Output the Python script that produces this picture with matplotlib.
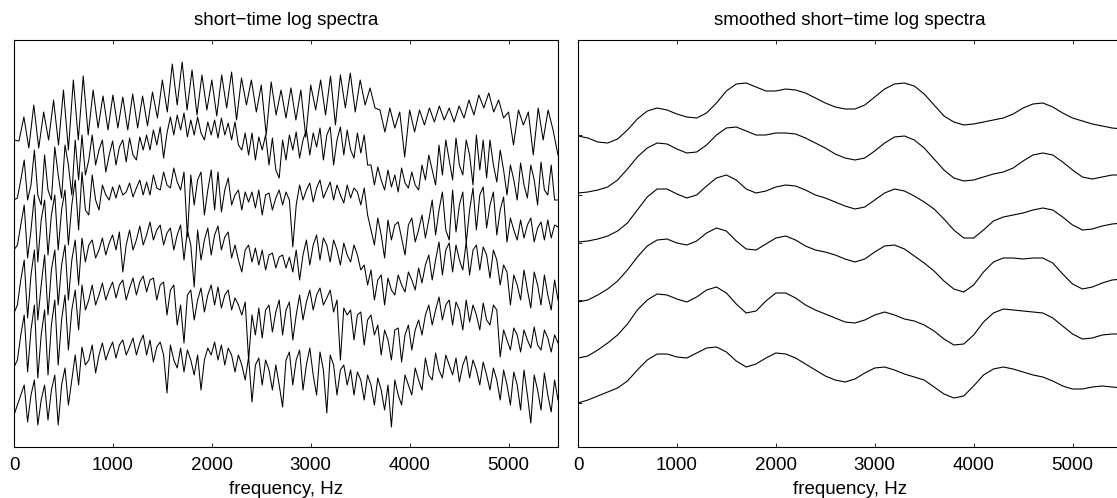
import numpy as np
import matplotlib
matplotlib.use("Agg")
import matplotlib.pyplot as plt

plt.rcParams['font.family'] = ['Liberation Sans', 'DejaVu Sans']

# raw log spectra, level above each trace's own baseline, top trace first
freq_raw_1 = np.arange(0, 5501, 50)
raw_1 = [0, -1, 23, -8, 35, -8, 28, 0, 40, -5,
         50, -10, 60, 0, 64, 5, 50, 12, 44, 10,
         45, 12, 43, 10, 46, 12, 44, 14, 48, 22,
         60, 28, 76, 35, 78, 30, 70, 25, 65, 30,
         60, 24, 65, 32, 68, 20, 62, 35, 60, 28,
         55, 5, 58, 25, 50, 22, 52, 20, 50, 3,
         55, 30, 60, 25, 64, 15, 65, 32, 67, 28,
         60, 35, 52, 32, 30, 8, 32, 12, 28, -17,
         30, 8, 30, 15, 32, 18, 34, 20, 32, 18,
         34, 22, 40, 25, 45, 32, 47, 28, 40, 22,
         28, -5, 30, 15, 28, -15, 32, 0, 30, 10,
         -15]

freq_raw = np.linspace(0, 5500, 161)
raw_2 = [-5, -3, 15, 35, -5, 10, 45, 0, -10, 40,
         5, -5, 48, 20, -3, 50, 30, 0, 55, 15,
         60, 20, 35, 60, 30, 45, 55, 23, 40, 54,
         30, 48, 55, 33, 57, 40, 35, 58, 45, 60,
         45, 65, 50, 68, 37, 62, 78, 60, 80, 65,
         82, 58, 75, 60, 78, 62, 55, 73, 60, 75,
         57, 77, 60, 72, 55, 73, 50, 45, 62, 40,
         62, 35, 58, 45, 60, 30, 57, 25, 17, 55,
         35, 60, 45, 63, 37, 55, 65, 40, 62, 48,
         67, 35, 60, 68, 30, 55, 68, 40, 65, 45,
         37, 62, 42, 60, 30, 30, 10, 28, 15, 5,
         25, 8, 20, 3, 27, 12, 7, 23, 10, 5,
         30, 15, 40, 25, 10, 50, 20, 55, 35, 15,
         57, 30, 20, 55, 40, 10, 60, 25, 55, 17,
         55, 30, 13, 45, 25, 0, 30, 15, -5, 32,
         10, -3, 30, 15, -10, 33, 5, 0, 30, -5,
         -5]
raw_3 = [0, 5, 25, 45, -8, 20, 55, -12, 30, 50,
         -5, 35, 55, 0, 40, 60, 5, 45, 70, 20,
         78, 40, 35, 75, 50, 40, 65, 55, 50, 63,
         52, 65, 55, 58, 67, 53, 62, 70, 55, 68,
         55, 75, 62, 60, 78, 65, 62, 82, 68, 60,
         78, 13, 75, 45, 70, 78, 35, 60, 80, 40,
         78, 38, 60, 72, 45, 55, 60, 40, 58, 48,
         58, 42, 60, 35, 55, 57, 40, 52, 60, 45,
         58, 50, 3, 45, 65, 50, 60, 67, 48, 62,
         70, 52, 60, 68, 50, 65, 55, 47, 65, 52,
         62, 58, 45, 62, 35, 20, 5, 32, 15, -8,
         30, 10, 25, 28, 12, -5, 25, 32, 8, 20,
         35, 12, 30, 50, 15, 40, 58, 20, 10, 60,
         18, 45, 58, 7, 40, 62, 20, 55, 63, 22,
         45, 58, 15, 40, 53, 8, 32, 20, 10, 30,
         12, 25, 32, 8, 22, 28, 10, 30, 12, 25,
         23]
raw_4 = [-8, 0, 25, 45, -13, 30, 55, -15, 20, 50,
         -10, 35, 55, 0, 40, 60, 5, 45, 65, 20,
         67, 43, 60, 65, 47, 55, 67, 50, 62, 70,
         55, 73, 33, 60, 75, 55, 65, 79, 60, 70,
         83, 65, 75, 80, 60, 72, 77, 55, 70, 80,
         45, 75, 60, 18, 75, 45, 65, 77, 50, 70,
         79, 55, 68, 73, 47, 60, 45, 33, 55, 60,
         43, 57, 40, 55, 35, 50, 52, 37, 48, 50,
         37, 48, 33, 55, 25, 50, 65, 40, 60, 70,
         45, 67, 60, 43, 65, 55, 40, 62, 50, 43,
         60, 50, 35, 40, 20, 35, 5, 25, 30, 0,
         27, 15, 10, 30, 20, 13, 33, 25, 15, 37,
         22, 40, 50, 25, 45, 63, 30, 55, 62, 33,
         60, 45, 35, 63, 30, 55, 60, 35, 58, 50,
         27, 55, 45, 20, 40, 33, 0, 30, 20, 5,
         35, 15, -3, 33, 20, 0, 30, 10, -5, 25,
         5]
raw_5 = [-7, 0, 25, 45, -12, 30, 55, -18, 25, 50,
         -15, 35, 60, -5, 40, 65, 10, 50, 70, 30,
         75, 50, 60, 75, 55, 65, 77, 60, 70, 78,
         62, 75, 80, 60, 72, 82, 65, 78, 84, 68,
         80, 82, 60, 75, 78, 45, 70, 75, 35, 55,
         17, 65, 70, 40, 60, 72, 48, 65, 75, 55,
         73, 52, 65, 70, 50, 62, 55, 45, 58, 0,
         45, 25, 52, 22, 50, 55, 28, 48, 60, 25,
         50, 58, 20, 45, 65, 40, 58, 70, 50, 65,
         72, 55, 62, 70, 48, 60, 0, 52, 45, 50,
         20, 45, 48, 15, 40, 45, 25, 35, 5, 30,
         20, 0, 30, 32, -2, 25, 35, 10, 30, 40,
         25, 45, 55, 35, 50, 63, 40, 55, 60, 35,
         58, 50, 30, 60, 38, 55, 45, 30, 57, 40,
         35, 55, 50, 3, 30, 20, 10, 32, 25, 8,
         30, 20, 12, 33, 15, 10, 30, 22, 8, 25,
         17]
raw_6 = [0, 10, 20, 30, -7, 20, 35, -10, 15, 30,
         -5, 25, 40, -10, 30, 47, 10, 35, 60, 30,
         68, 50, 55, 70, 42, 60, 72, 55, 65, 73,
         57, 70, 75, 60, 68, 77, 60, 72, 80, 60,
         75, 53, 68, 73, 60, 22, 70, 55, 47, 67,
         43, 65, 55, 40, 60, 25, 55, 67, 60, 73,
         55, 70, 50, 67, 60, 43, 60, 50, 35, 58,
         13, 50, 57, 30, 55, 45, 25, 50, 30, 8,
         55, 63, 30, 55, 65, 25, 50, 67, 40, 20,
         63, 45, 2, 60, 50, 20, 45, 50, 30, 45,
         20, 43, 35, 15, 40, 30, 10, 37, 25, 5,
         30, -12, 35, 20, 10, 40, 30, 20, 47, 35,
         25, 57, 40, 35, 62, 45, 37, 60, 50, 40,
         57, 33, 50, 59, 37, 55, 45, 30, 53, 40,
         25, 47, 35, 15, 45, 30, 10, 43, 30, 5,
         45, 20, -8, 40, 25, 5, 42, 20, 3, 35,
         15]

# smoothed log spectra, read every 100 Hz, top trace first
freq_smooth = np.arange(0, 5501, 100)
smooth_1 = [4, 2, -2, -3, 1, 10, 21, 29, 32, 30,
            26, 23, 22, 27, 37, 49, 56, 57, 53, 49,
            49, 51, 50, 47, 42, 37, 33, 31, 31, 35,
            43, 51, 56, 57, 54, 46, 35, 24, 18, 15,
            16, 18, 20, 22, 26, 32, 36, 37, 33, 27,
            22, 19, 16, 14, 12, 11]
smooth_2 = [2, 3, 5, 8, 15, 26, 38, 47, 52, 51,
            46, 42, 43, 50, 60, 67, 68, 64, 60, 60,
            62, 62, 61, 57, 52, 47, 41, 37, 35, 37,
            44, 52, 58, 59, 55, 47, 36, 25, 17, 14,
            15, 18, 21, 23, 27, 34, 40, 42, 40, 33,
            25, 18, 16, 18, 20, 20]
smooth_3 = [8, 9, 11, 14, 19, 27, 40, 53, 61, 61,
            56, 52, 55, 64, 72, 75, 70, 61, 57, 59,
            63, 65, 64, 60, 55, 52, 48, 44, 41, 43,
            50, 57, 61, 59, 54, 48, 41, 31, 20, 12,
            12, 20, 29, 33, 35, 37, 40, 42, 40, 33,
            25, 20, 21, 24, 26, 27]
smooth_4 = [3, 5, 10, 16, 24, 35, 48, 59, 65, 66,
            62, 60, 64, 72, 77, 74, 64, 56, 55, 61,
            67, 69, 65, 59, 55, 53, 50, 46, 43, 46,
            53, 59, 60, 56, 49, 42, 34, 24, 16, 13,
            20, 33, 43, 47, 47, 46, 47, 47, 42, 31,
            21, 16, 18, 22, 25, 26]
smooth_5 = [2, 4, 10, 17, 25, 36, 50, 60, 66, 65,
            61, 58, 63, 70, 73, 67, 56, 47, 49, 59,
            67, 67, 62, 55, 50, 46, 42, 38, 37, 40,
            45, 48, 45, 41, 39, 35, 29, 21, 15, 16,
            25, 38, 47, 51, 50, 49, 48, 47, 42, 34,
            26, 21, 22, 25, 26, 26]
smooth_6 = [12, 15, 19, 23, 27, 34, 45, 55, 61, 61,
            58, 57, 62, 67, 68, 63, 54, 48, 51, 57,
            62, 61, 57, 51, 45, 39, 35, 33, 36, 42,
            47, 48, 45, 41, 38, 35, 28, 21, 17, 19,
            29, 40, 46, 48, 46, 43, 40, 38, 34, 29,
            26, 26, 28, 29, 28, 27]

offsets = [275, 220, 165, 110, 55, 0]
smooth_ticks = [280, 220, 172, 115, 58, 12]
freq_ticks = [0, 1000, 2000, 3000, 4000, 5000]

raw_x = [freq_raw_1] + [freq_raw] * 5
raw = [raw_1, raw_2, raw_3, raw_4, raw_5, raw_6]
smooth = [smooth_1, smooth_2, smooth_3, smooth_4, smooth_5, smooth_6]

W, H = 1117, 498
fig = plt.figure(figsize=(W / 100, H / 100), dpi=100)
ax1 = fig.add_axes([14 / W, 51 / H, 544 / W, 407 / H])
ax2 = fig.add_axes([578 / W, 51 / H, 544 / W, 407 / H])

for fx, vals, off in zip(raw_x, raw, offsets):
    ax1.plot(fx, np.array(vals) + off, color='black', lw=0.75)
for vals, off in zip(smooth, offsets):
    ax2.plot(freq_smooth, np.array(vals) + off, color='black', lw=0.8,
             solid_joinstyle='round')

ax1.set_title('short\u2212time log spectra', fontsize=13.5, pad=11)
ax2.set_title('smoothed short\u2212time log spectra', fontsize=13.5, pad=11)

for ax in (ax1, ax2):
    ax.set_xlim(0, 5500)
    ax.set_ylim(-32, 375)
    ax.set_xticks(freq_ticks)
    ax.set_xticklabels([str(f) for f in freq_ticks], fontsize=13.5)
    ax.set_xlabel('frequency, Hz', fontsize=13.5, labelpad=5)
    ax.tick_params(direction='in', top=True, right=True, length=3, width=0.6, pad=7.5)
    for s in ax.spines.values():
        s.set_linewidth(0.8)

ax1.set_yticks([])
ax2.set_yticks(smooth_ticks)
ax2.set_yticklabels([])

fig.savefig('out.png', dpi=100)
